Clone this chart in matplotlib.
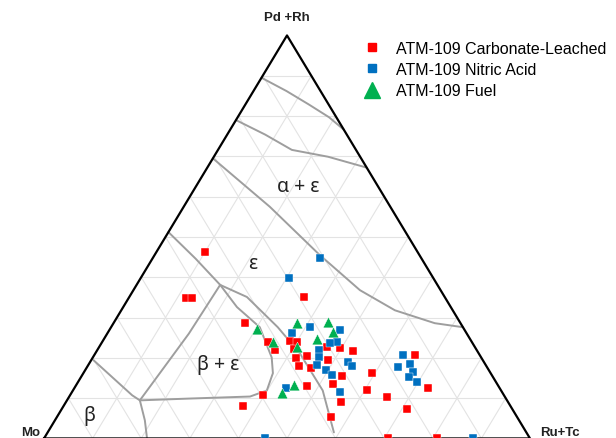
import numpy as np
import matplotlib.pyplot as plt
from matplotlib.lines import Line2D

# ------------------- DATA (composition in %) -------------------
# Pd+Rh = top corner, Mo = left corner, Ru+Tc = right corner
carb_pd = [46.3, 34.8, 34.8, 35.1, 28.6, 23.9, 21.9, 24.1, 23.9, 22.1, 19.9, 20.4, 17.9, 17.4, 22.6, 19.4, 22.4,
           21.6, 15.4, 13.4, 9.0, 16.2, 11.9, 10.2, 12.9, 10.7, 8.0, 5.2, 0.0, 0.0, 20.6, 12.4, 7.2]
carb_mo = [43.7, 53.4, 52.2, 29.0, 44.3, 42.0, 41.5, 37.3, 36.0, 37.5, 38.2, 35.7, 38.6, 36.4, 30.5, 31.9, 27.9,
           25.6, 31.0, 33.8, 34.4, 24.4, 27.6, 24.3, 39.4, 49.6, 55.0, 38.4, 29.2, 19.1, 13.4, 14.8, 21.7]
carb_ru = [10.0, 11.8, 13.0, 35.9, 27.1, 34.1, 36.6, 38.6, 40.1, 40.4, 41.9, 43.9, 43.5, 46.2, 46.9, 48.7, 49.7,
           52.8, 53.6, 52.8, 56.6, 59.4, 60.5, 65.5, 47.7, 39.7, 37.0, 56.4, 70.8, 80.9, 66.0, 72.8, 71.1]

nitric_pd = [44.8, 39.8, 27.6, 26.1, 26.9, 23.9, 23.6, 21.9, 20.1, 18.2, 16.9, 15.7, 18.9, 17.9, 11.4, 12.4,
             20.6, 18.4, 17.7, 16.4, 15.2, 13.9, 0.0, 0.0]
nitric_mo = [20.8, 29.7, 31.5, 35.9, 25.6, 27.8, 29.4, 32.5, 33.4, 34.7, 33.5, 32.9, 28.0, 27.7, 33.4, 44.0,
             15.8, 15.5, 18.3, 15.9, 17.3, 16.3, 54.5, 11.7]
nitric_ru = [34.4, 30.5, 40.9, 38.0, 47.5, 48.3, 47.0, 45.6, 46.5, 47.1, 49.6, 51.4, 53.1, 54.4, 55.2, 43.6,
             63.6, 66.1, 64.0, 67.7, 67.5, 69.8, 45.5, 88.3]

fuel_pd = [27.1, 23.9, 28.6, 28.9, 26.4, 24.6, 22.6, 13.2, 11.2]
fuel_mo = [42.6, 40.9, 33.6, 27.1, 27.3, 31.5, 36.7, 42.0, 45.4]
fuel_ru = [30.3, 35.2, 37.8, 44.0, 46.3, 43.9, 40.7, 44.8, 43.4]

# phase boundaries, (Pd+Rh %, Ru+Tc %)
bound_1 = [(89.5, 0), (86.2, 6.8), (82.9, 13.0), (79.7, 18.8), (76.6, 23.4)]
bound_2 = [(79.0, 0), (75.4, 7.8), (71.6, 15.2), (69.9, 23.5), (67.2, 32.8)]
bound_3 = [(69.5, 0), (57.5, 17.7), (45.5, 34.0), (36.8, 46.6), (31.8, 56.3), (28.6, 66.1), (27.6, 72.4)]
bound_4 = [(51.2, 0), (44.6, 8.9), (38.1, 17.2)]
bound_5 = [(38.1, 17.2), (35.1, 24.2), (27.6, 34.3), (21.1, 42.1), (11.9, 51.4), (1.5, 58.9)]
bound_6 = [(38.1, 17.2), (32.6, 23.4), (27.6, 30.6), (20.1, 36.8), (16.2, 39.0), (11.9, 39.9), (10.4, 37.2),
           (9.9, 25.1), (9.45, 15.0)]
bound_7 = [(9.45, 15.0), (26.0, 16.8), (38.1, 17.2)]
bound_8 = [(19.4, 0.5), (10.7, 12.8), (9.45, 15.0), (4.5, 18.5), (0, 21.2)]
boundaries = [bound_1, bound_2, bound_3, bound_4, bound_5, bound_6, bound_7, bound_8]

phase_labels = ['α + ε', 'ε', 'β + ε', 'β']
phase_pos = [(62.7, 20.9), (43.5, 21.2), (18.4, 26.6), (5.7, 6.4)]


def tern(pd, ru):
    # top fraction and right fraction -> x, y inside triangle
    pd = np.asarray(pd) / 100.0
    ru = np.asarray(ru) / 100.0
    return ru + pd / 2, pd


def main():
    fig = plt.figure(figsize=(6.16, 4.39), dpi=100)
    ax = fig.add_axes([44 / 616, -0.001, 486 / 616, 403 / 439])
    ax.set_xlim(0, 1)
    ax.set_ylim(0, 1)
    ax.axis('off')

    # ------------------- grid -------------------
    for k in np.arange(0.1, 1.0, 0.1):
        ax.plot([k / 2, 1 - k / 2], [k, k], color='#e3e3e3', lw=0.8, zorder=1)
        ax.plot([k, k + (1 - k) / 2], [0, 1 - k], color='#e3e3e3', lw=0.8, zorder=1)
        ax.plot([k, k / 2], [0, k], color='#e3e3e3', lw=0.8, zorder=1)

    # ------------------- phase boundaries -------------------
    for b in boundaries:
        b = np.array(b)
        x, y = tern(b[:, 0], b[:, 1])
        ax.plot(x, y, color='#9e9e9e', lw=1.4, zorder=2, solid_capstyle='round', solid_joinstyle='round')

    for lab, (p, r) in zip(phase_labels, phase_pos):
        x, y = tern(p, r)
        ax.text(x, y, lab, fontsize=14, ha='center', va='center', family=['Noto Sans', 'DejaVu Sans'],
                color='#222222', zorder=3)

    # ------------------- triangle -------------------
    ax.plot([0, 0.5, 1, 0], [0, 1, 0, 0], color='black', lw=1.6, zorder=5, clip_on=False)

    # ------------------- data -------------------
    x, y = tern(carb_pd, carb_ru)
    ax.scatter(x, y, marker='s', s=30, color='#ff0000', edgecolors='white', linewidths=0.3, zorder=6,
               clip_on=False)
    x, y = tern(nitric_pd, nitric_ru)
    ax.scatter(x, y, marker='s', s=30, color='#0070c0', edgecolors='white', linewidths=0.3, zorder=6,
               clip_on=False)
    x, y = tern(fuel_pd, fuel_ru)
    ax.scatter(x, y, marker='^', s=60, color='#00b050', edgecolors='white', linewidths=0.3, zorder=7,
               clip_on=False)

    # ------------------- corner labels -------------------
    lab_font = dict(fontsize=9.5, fontweight='bold', family='Liberation Sans', color='#222222')
    ax.text(0.5, 1.045, 'Pd +Rh', ha='center', va='center', **lab_font)
    ax.text(-0.008, 0.015, 'Mo', ha='right', va='center', **lab_font)
    ax.text(1.02, 0.015, 'Ru+Tc', ha='left', va='center', **lab_font)

    # ------------------- legend -------------------
    handles = [Line2D([], [], ls='', marker='s', ms=6, color='#ff0000'),
               Line2D([], [], ls='', marker='s', ms=6, color='#0070c0'),
               Line2D([], [], ls='', marker='^', ms=11, color='#00b050')]
    labels = ['ATM-109 Carbonate-Leached', 'ATM-109 Nitric Acid', 'ATM-109 Fuel']
    fig.legend(handles, labels, loc='upper left', bbox_to_anchor=(362 / 616, 1 - 42 / 439), frameon=False,
               prop={'family': 'Liberation Sans', 'size': 11.5}, handlelength=1.2, handletextpad=0.9,
               labelspacing=0.38, borderpad=0, borderaxespad=0)

    fig.savefig('out.png', dpi=100)


main()
